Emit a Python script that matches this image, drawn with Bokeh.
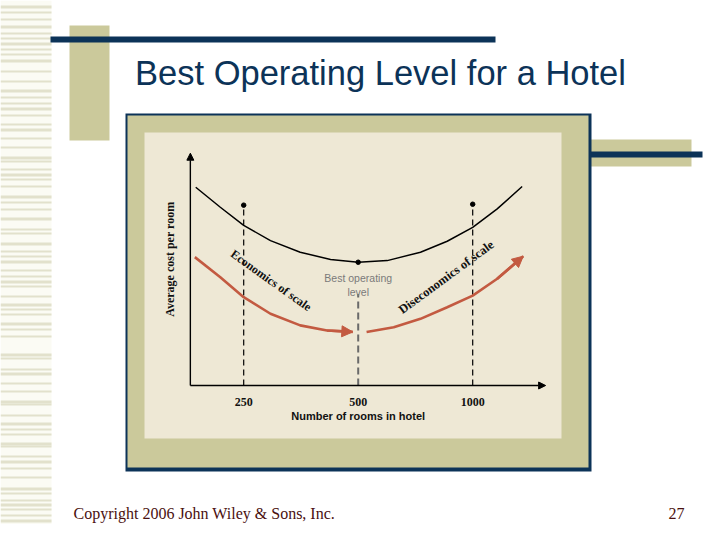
from bokeh.plotting import figure
from bokeh.models import Range1d, LogScale, Arrow, NormalHead
from bokeh.core.properties import value
from bokeh.embed import file_html
from bokeh.resources import INLINE

# ---------------- data ----------------
tick_rooms = [250, 500, 1000]
tick_labels = ["250", "500", "1000"]

curve_rooms = [187, 217, 250, 294, 352, 423, 500, 596, 729, 857, 1000, 1160, 1349]
curve_cost = [85.1, 76.5, 68.7, 62.2, 57.2, 54.1, 52.9, 53.6, 57.2, 61.9, 67.9, 75.8, 85.4]

marker_rooms = [250, 500, 1000]
marker_cost = [77.4, 52.9, 77.8]

econ_rooms = [186, 217, 250, 294, 352, 414, 484]
econ_cost = [55.1, 46.5, 37.9, 30.8, 25.8, 23.6, 23.0]

disecon_rooms = [526, 620, 729, 857, 1000, 1160, 1358]
disecon_cost = [23.0, 25.0, 28.6, 33.6, 38.6, 45.8, 55.5]

title_text = "Best Operating Level for a Hotel"
x_title = "Number of rooms in hotel"
y_title = "Average cost per room"
footer_left = "Copyright 2006 John Wiley & Sons, Inc."
footer_right = "27"

# ---------------- layout constants (picture pixels) ----------------
W, H = 704, 524
PX0, PX1 = 0, 704
PY0, PY1 = 0, 524
REF_X, REF_ROOMS, PX_PER_DOUBLING = 357.7, 500, 114.5
ORIGIN_Y, PX_PER_COST = 385.0, 2.33

rooms_start = REF_ROOMS * 2 ** ((PX0 - REF_X) / PX_PER_DOUBLING)
rooms_end = REF_ROOMS * 2 ** ((PX1 - REF_X) / PX_PER_DOUBLING)
cost_start = (ORIGIN_Y - PY1) / PX_PER_COST
cost_end = (ORIGIN_Y - PY0) / PX_PER_COST

NAVY = "#0c3358"
OLIVE = "#cbc99b"
CREAM = "#eee8d5"
STRIPE = "#e2e1cc"
RED = "#c35a41"

p = figure(width=W, height=H, x_range=Range1d(PX0, PX1), y_range=Range1d(PY1, PY0),
           output_backend="svg", toolbar_location=None,
           x_axis_location=None, y_axis_location=None, min_border=0,
           outline_line_color=None, background_fill_color="white",
           border_fill_color="white")
p.xgrid.visible = False
p.ygrid.visible = False

p.extra_x_ranges = {"rooms": Range1d(rooms_start, rooms_end)}
p.extra_x_scales = {"rooms": LogScale()}
p.extra_y_ranges = {"cost": Range1d(cost_start, cost_end)}

# ---------------- slide decorations ----------------
stripe_y = [5, 11, 18, 25, 32, 37, 42, 48, 53, 59, 70, 80, 89, 96, 102, 107, 114, 123, 128,
            137, 146, 156, 160, 168, 173, 178, 185, 195, 201, 208, 217, 228, 232, 242, 250,
            255, 260, 269, 275, 280, 285, 295, 303, 308, 313, 322, 328, 335, 353, 357, 368,
            372, 382, 390, 400, 403, 414, 422, 428, 433, 442, 445, 455, 460, 467, 476, 487,
            492, 499, 503, 508, 514, 519, 525, 530]
stripe_h = [3 if i % 3 == 0 else 2 for i in range(len(stripe_y))]
p.quad(left=0, right=51, top=0, bottom=540, fill_color="#fbfbf4", line_color=None)
p.quad(left=[0] * len(stripe_y), right=[51] * len(stripe_y), top=stripe_y,
       bottom=[y + h for y, h in zip(stripe_y, stripe_h)], fill_color=STRIPE, line_color=None)

# left olive block + navy rule
p.quad(left=69, right=109, top=25, bottom=140, fill_color=OLIVE, line_color=None)
p.quad(left=50, right=495, top=36, bottom=42, fill_color=NAVY, line_color=None)
# right olive block + navy rule
p.quad(left=590, right=691, top=139, bottom=166, fill_color=OLIVE, line_color=None)
p.quad(left=590, right=702, top=151, bottom=157, fill_color=NAVY, line_color=None)

# framed panel
p.quad(left=125, right=591, top=113, bottom=471, fill_color=NAVY, line_color=None)
p.quad(left=127, right=588, top=115, bottom=467, fill_color=OLIVE, line_color=None)
p.quad(left=144, right=561, top=132, bottom=438, fill_color=CREAM, line_color=None)

# title + footer
p.text(x=[380], y=[72.5], text=[title_text], text_font=value("Liberation Sans"),
       text_font_size="34.5px", text_color=NAVY, text_align="center",
       text_baseline="middle")
p.text(x=[73], y=[513], text=[footer_left], text_font=value("Liberation Serif"),
       text_font_size="16px", text_color="#4a1010", text_align="left",
       text_baseline="middle")
p.text(x=[684], y=[513], text=[footer_right], text_font=value("Liberation Serif"),
       text_font_size="16px", text_color="#4a1010", text_align="right",
       text_baseline="middle")

# ---------------- inner chart (data coordinates) ----------------
R = dict(x_range_name="rooms", y_range_name="cost")

# dashed guides
p.segment(x0=[marker_rooms[0], marker_rooms[2]], y0=[0, 0],
          x1=[marker_rooms[0], marker_rooms[2]], y1=[marker_cost[0], marker_cost[2]],
          line_color="black", line_width=1.2, line_dash="6 4", **R)
p.segment(x0=[marker_rooms[1]], y0=[0], x1=[marker_rooms[1]], y1=[39.3],
          line_color="#6a6a6a", line_width=2, line_dash="7 4", **R)

# axes with arrows
axis_rooms0, axis_rooms1, axis_cost1 = 181, 1555, 99.7
p.add_layout(Arrow(x_start=axis_rooms0, y_start=0, x_end=axis_rooms1, y_end=0,
                   line_color="black", line_width=1.4,
                   end=NormalHead(size=7, fill_color="black", line_color="black"), **R))
p.add_layout(Arrow(x_start=axis_rooms0, y_start=0, x_end=axis_rooms0, y_end=axis_cost1,
                   line_color="black", line_width=1.4,
                   end=NormalHead(size=7, fill_color="black", line_color="black"), **R))

# cost curve
p.line(curve_rooms, curve_cost, line_color="black", line_width=1.5, **R)
p.scatter(marker_rooms, marker_cost, size=4.5, fill_color="black", line_color="black", **R)

# red arrows
p.line(econ_rooms, econ_cost, line_color=RED, line_width=2.6, **R)
p.add_layout(Arrow(x_start=econ_rooms[-2], y_start=econ_cost[-2],
                   x_end=econ_rooms[-1], y_end=econ_cost[-1], line_color=RED, line_width=2.6,
                   end=NormalHead(size=11, fill_color=RED, line_color=RED), **R))
p.line(disecon_rooms, disecon_cost, line_color=RED, line_width=2.6, **R)
p.add_layout(Arrow(x_start=disecon_rooms[-2], y_start=disecon_cost[-2],
                   x_end=disecon_rooms[-1], y_end=disecon_cost[-1], line_color=RED, line_width=2.6,
                   end=NormalHead(size=11, fill_color=RED, line_color=RED), **R))

# tick labels and titles
p.text(x=tick_rooms, y=[-6.9] * 3, text=tick_labels, text_font=value("Liberation Serif"),
       text_font_size="12px", text_font_style="bold", text_color="#111111",
       text_align="center", text_baseline="middle", **R)
p.text(x=[500], y=[-13.3], text=[x_title], text_font=value("Liberation Sans"),
       text_font_size="11px", text_font_style="bold", text_color="#111111",
       text_align="center", text_baseline="middle", **R)
p.text(x=[160], y=[54.2], text=[y_title], text_font=value("Liberation Serif"),
       text_font_size="12px", text_font_style="bold", text_color="#111111",
       text_align="center", text_baseline="middle", angle=1.5708, **R)

p.text(x=[295], y=[45.1], text=["Economics of scale"], text_font=value("Liberation Serif"),
       text_font_size="12px", text_font_style="bold", text_color="#111111",
       text_align="center", text_baseline="middle", angle=-0.62, **R)
p.text(x=[852], y=[46.5], text=["Diseconomics of scale"], text_font=value("Liberation Serif"),
       text_font_size="12.5px", text_font_style="bold", text_color="#111111",
       text_align="center", text_baseline="middle", angle=0.635, **R)
p.text(x=[500, 500], y=[46.0, 40.3], text=["Best operating", "level"],
       text_font=value("Liberation Sans"), text_font_size="10.5px", text_color="#7a7a7a",
       text_align="center", text_baseline="middle", **R)

open("out.html", "w").write(file_html(p, INLINE))
